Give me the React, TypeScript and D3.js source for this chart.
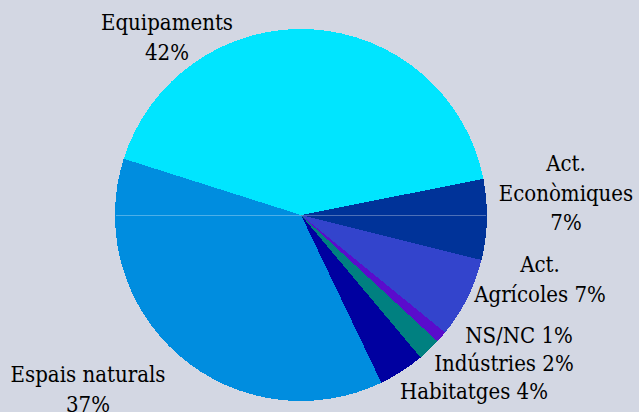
import { useEffect, useRef } from "react";
import * as d3 from "d3";

const WIDTH = 639;
const HEIGHT = 412;

// Data
const categories = [
  "Equipaments",
  "Act. Econòmiques",
  "Act. Agrícoles",
  "NS/NC",
  "Indústries",
  "Habitatges",
  "Espais naturals",
];
const values = [42, 7, 7, 1, 2, 4, 37];
const colors = [
  "#00e5ff",
  "#003399",
  "#3344cc",
  "#5a0ccc",
  "#008080",
  "#0000a0",
  "#008ddf",
];

// Label text lines and anchor (centre of first baseline) — layout only
const labelLines = [
  ["Equipaments", "42%"],
  ["Act.", "Econòmiques", "7%"],
  ["Act.", "Agrícoles 7%"],
  ["NS/NC 1%"],
  ["Indústries 2%"],
  ["Habitatges 4%"],
  ["Espais naturals", "37%"],
];
const labelAnchors: Array<[number, number]> = [
  [167, 30],
  [566, 171],
  [540, 272],
  [519, 343],
  [504, 371],
  [474, 399],
  [88, 382],
];

const CX = 301;
const CY = 215;
const RADIUS = 186;
const START_DEG = -72.4;
const LINE_HEIGHT = 29.5;

const COLOR_BG = "#d3d7e3";
const FONT = "'DejaVu Serif Condensed', 'DejaVu Serif', serif";

export default function App() {
  const svgRef = useRef<SVGSVGElement>(null);

  useEffect(() => {
    const svg = d3.select(svgRef.current);
    svg.selectAll("*").remove();

    svg
      .append("rect")
      .attr("width", WIDTH)
      .attr("height", HEIGHT)
      .attr("fill", COLOR_BG);

    const start = (START_DEG * Math.PI) / 180;
    const pie = d3
      .pie<number>()
      .sort(null)
      .value((d) => d)
      .startAngle(start)
      .endAngle(start + 2 * Math.PI);

    const arc = d3.arc<d3.PieArcDatum<number>>().innerRadius(0).outerRadius(RADIUS);

    const g = svg.append("g").attr("transform", `translate(${CX},${CY})`);

    g.selectAll("path")
      .data(pie(values))
      .enter()
      .append("path")
      .attr("d", arc)
      .attr("fill", (_, i) => colors[i])
      .attr("shape-rendering", "crispEdges");

    // faint horizontal seam across the pie centre
    g.append("line")
      .attr("x1", -RADIUS + 1)
      .attr("x2", RADIUS - 1)
      .attr("y1", 0.5)
      .attr("y2", 0.5)
      .attr("stroke", "#ffffff")
      .attr("stroke-opacity", 0.3)
      .attr("stroke-width", 1)
      .attr("shape-rendering", "crispEdges");

    // Labels
    categories.forEach((_, i) => {
      const [x, y] = labelAnchors[i];
      const t = svg
        .append("text")
        .attr("text-anchor", "middle")
        .style("font-family", FONT)
        .style("font-stretch", "condensed")
        .style("font-size", "22px")
        .attr("fill", "#000000");
      labelLines[i].forEach((line, j) => {
        t.append("tspan")
          .attr("x", x)
          .attr("y", y + j * LINE_HEIGHT)
          .text(line);
      });
    });
  }, []);

  return (
    <>
      <style>{`body{margin:0}`}</style>
      <svg
        ref={svgRef}
        width={WIDTH}
        height={HEIGHT}
        viewBox={`0 0 ${WIDTH} ${HEIGHT}`}
        style={{ display: "block", fontFamily: FONT }}
      />
    </>
  );
}
